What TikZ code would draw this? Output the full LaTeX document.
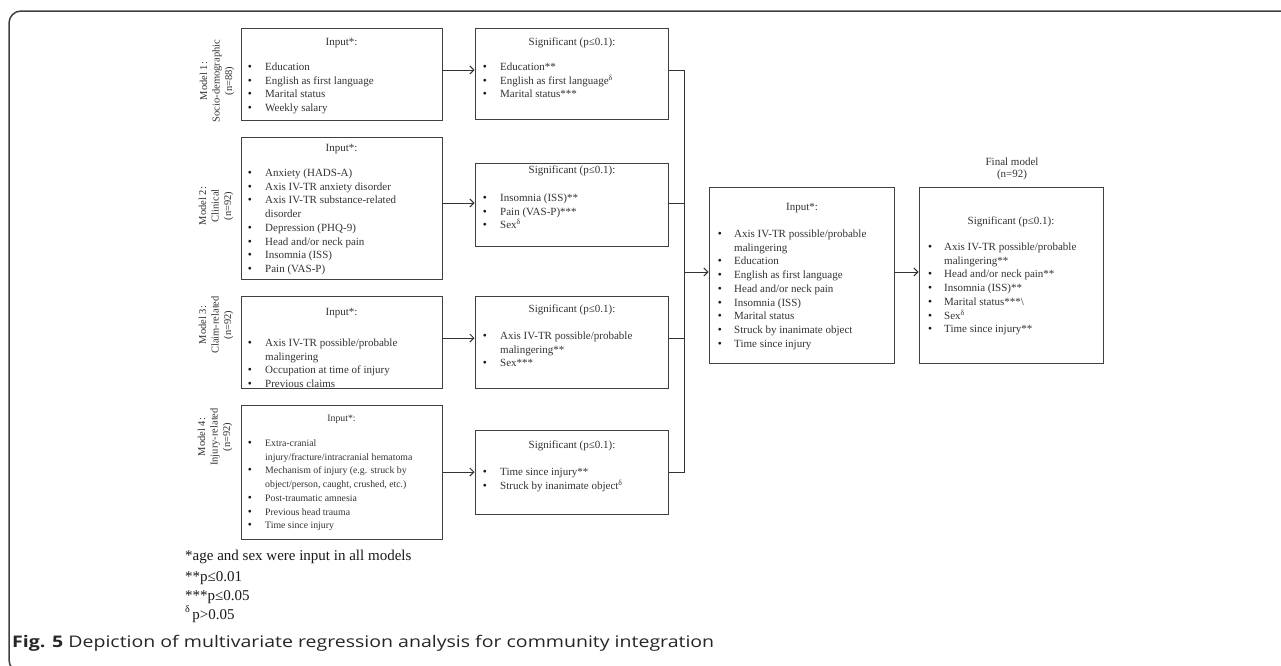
\documentclass[tikz,border=0pt]{standalone}
\usepackage{fontspec}
\setmainfont{Liberation Serif}
\newfontfamily\capfont{Open Sans}
\usetikzlibrary{arrows.meta,calc}
\newlength\capw
\newcommand\captext{\textbf{Fig. 5} Depiction of multivariate regression analysis for community integration}
\newcommand\itemrows[5]{%
  \foreach \b/\t [count=\i from 0] in {#5} {%
    \node[bul,anchor=base] (#1b\i) at (#2, #4+\i*13.7) {\b};
    \node[txt,anchor=base west] (#1t\i) at (#3, #4+\i*13.7) {\t};
  }}
\begin{document}
\settowidth{\capw}{\capfont\fontsize{16}{19}\selectfont\captext}%
\pgfmathsetmacro\capsx{702/\capw}%
\begin{tikzpicture}[x=1pt,y=-1pt,
  box/.style={draw=black!75,line width=1pt,inner sep=0pt,fill=white},
  txt/.style={inner sep=0pt,text=black!80,font=\fontsize{11}{13}\selectfont},
  bul/.style={inner sep=0pt,text=black!90,font=\fontsize{11.5}{13}\selectfont},
  lbl/.style={inner sep=0pt,text=black!80,font=\fontsize{10.5}{12.5}\selectfont,align=center},
  fn/.style={inner sep=0pt,text=black!90,font=\fontsize{15}{18}\selectfont},
  link/.style={draw=black!80,line width=1pt},
  arr/.style={link,-{Straight Barb[length=4pt,width=8pt,line width=1pt]}},
  frame/.style={draw=black!75,line width=1.5pt,rounded corners=12pt}]
\useasboundingbox[fill=white] (0,0) rectangle (1281,665);
\draw[frame] (1295,11) -- (9,11) -- (9,672) -- (1295,672);

% boxes
\node[box,minimum width=201pt,minimum height=92pt] (in1) at (341.5,74) {};
\node[box,minimum width=201pt,minimum height=142pt] (in2) at (341.5,208) {};
\node[box,minimum width=201pt,minimum height=92pt] (in3) at (341.5,342) {};
\node[box,minimum width=201pt,minimum height=134pt] (in4) at (341.5,472) {};
\node[box,minimum width=193pt,minimum height=91pt] (s1) at (571.5,73.5) {};
\node[box,minimum width=193pt,minimum height=83pt] (s2) at (571.5,204.5) {};
\node[box,minimum width=193pt,minimum height=92pt] (s3) at (571.5,342) {};
\node[box,minimum width=193pt,minimum height=84pt] (s4) at (571.5,472) {};
\node[box,minimum width=185pt,minimum height=176pt] (mid) at (801.5,275) {};
\node[box,minimum width=184pt,minimum height=176pt] (fin) at (1011,275) {};

% model labels
\node[lbl,rotate=90] (lab1) at (217,81) {Model 1:\\Socio-demographic\\(n=88)};
\node[lbl,rotate=90] (lab2) at (216,206) {Model 2:\\Clinical\\(n=92)};
\node[lbl,rotate=90] (lab3) at (216,325) {Model 3:\\Claim-related\\(n=92)};
\node[lbl,rotate=90] (lab4) at (215,437) {Model 4:\\Injury-related\\(n=92)};
\node[lbl,font=\fontsize{11}{12}\selectfont] (finlab) at (1012,169) {Final model\\(n=92)};

% titles
\node[txt,anchor=base] (in1h) at (341.5,45.5) {Input*:};
\node[txt,anchor=base] (in2h) at (341.5,151.5) {Input*:};
\node[txt,anchor=base] (in3h) at (341.5,315.5) {Input*:};
\node[txt,anchor=base,font=\fontsize{9.8}{12}\selectfont] (in4h) at (341.5,421.5) {Input*:};
\node[txt,anchor=base] (s1h) at (572,45.5) {Significant (p≤0.1):};
\node[txt,anchor=base] (s2h) at (572,173.5) {Significant (p≤0.1):};
\node[txt,anchor=base] (s3h) at (572,312.5) {Significant (p≤0.1):};
\node[txt,anchor=base] (s4h) at (572,448.5) {Significant (p≤0.1):};
\node[txt,anchor=base] (midh) at (802,210.5) {Input*:};
\node[txt,anchor=base] (finh) at (1011,224.5) {Significant (p≤0.1):};

% lists
\itemrows{in1}{250}{265}{70.5}{•/{Education},•/{English as first language},•/{Marital status},•/{Weekly salary}}
\itemrows{in2}{250}{265}{176.5}{•/{Anxiety (HADS-A)},•/{Axis IV-TR anxiety disorder},•/{Axis IV-TR substance-related},{}/{disorder},•/{Depression (PHQ-9)},•/{Head and/or neck pain},•/{Insomnia (ISS)},•/{Pain (VAS-P)}}
\itemrows{in3}{250}{265}{346.5}{•/{Axis IV-TR possible/probable},{}/{malingering},•/{Occupation at time of injury},•/{Previous claims}}
\begin{scope}[txt/.append style={font=\fontsize{9.8}{12}\selectfont}]
\itemrows{in4}{250}{265}{446.5}{•/{Extra-cranial},{}/{injury/fracture/intracranial hematoma},•/{Mechanism of injury (e.g. struck by},{}/{object/person, caught, crushed, etc.)},•/{Post-traumatic amnesia},•/{Previous head trauma},•/{Time since injury}}
\end{scope}
\itemrows{s1}{485}{500}{70.5}{•/{Education**},•/{English as first language\textsuperscript{δ}},•/{Marital status***}}
\itemrows{s2}{485}{500}{201.5}{•/{Insomnia (ISS)**},•/{Pain (VAS-P)***},•/{Sex\textsuperscript{δ}}}
\itemrows{s3}{485}{500}{339.5}{•/{Axis IV-TR possible/probable},{}/{malingering**},•/{Sex***}}
\itemrows{s4}{485}{500}{475.5}{•/{Time since injury**},•/{Struck by inanimate object\textsuperscript{δ}}}
\itemrows{mid}{720}{734}{237.5}{•/{Axis IV-TR possible/probable},{}/{malingering},•/{Education},•/{English as first language},•/{Head and/or neck pain},•/{Insomnia (ISS)},•/{Marital status},•/{Struck by inanimate object},•/{Time since injury}}
\itemrows{fin}{930}{944}{250.5}{•/{Axis IV-TR possible/probable},{}/{malingering**},•/{Head and/or neck pain**},•/{Insomnia (ISS)**},•/{Marital status***\textbackslash},•/{Sex\textsuperscript{δ}},•/{Time since injury**}}

% connectors
\coordinate (r1) at (0,70);
\coordinate (r2) at (0,203);
\coordinate (r3) at (0,338);
\coordinate (r4) at (0,472);
\coordinate (rm) at (0,272);
\coordinate (bus) at (684,0);
\draw[arr] (in1.east |- r1) -- (s1.west |- r1);
\draw[arr] (in2.east |- r2) -- (s2.west |- r2);
\draw[arr] (in3.east |- r3) -- (s3.west |- r3);
\draw[arr] (in4.east |- r4) -- (s4.west |- r4);
\draw[link] (s1.east |- r1) -- (bus |- r1) -- (bus |- r4) -- (s4.east |- r4);
\draw[link] (s2.east |- r2) -- (bus |- r2);
\draw[link] (s3.east |- r3) -- (bus |- r3);
\draw[arr] (bus |- rm) -- (mid.west |- rm);
\draw[arr] (mid.east |- rm) -- (fin.west |- rm);

% footnotes
\node[fn,anchor=base west] (fn1) at (185,560) {*age and sex were input in all models};
\node[fn,anchor=base west] (fn2) at (185,581) {**p≤0.01};
\node[fn,anchor=base west] (fn3) at (185,600) {***p≤0.05};
\node[fn,anchor=base west] (fn4) at (185,619) {\raisebox{7pt}{\fontsize{10}{10}\selectfont δ}\,p>0.05};

% caption
\node[inner sep=0pt,anchor=base west,text=black!85] (cap) at (12,647) {\scalebox{\capsx}[1]{\capfont\fontsize{16}{19}\selectfont\captext}};
\end{tikzpicture}
\end{document}
